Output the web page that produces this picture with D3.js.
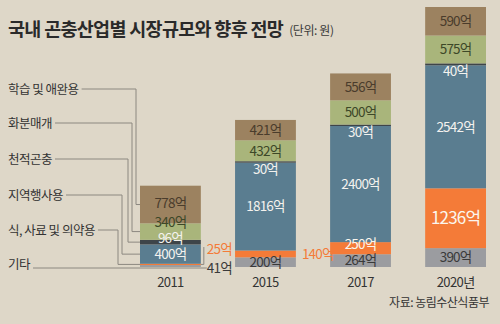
<!DOCTYPE html>
<html>
<head>
<meta charset="utf-8">
<script src="https://cdn.jsdelivr.net/npm/d3@7"></script>
<style>
  html, body { margin: 0; padding: 0; background: #ded7c8; }
  svg { display: block; }
  text { font-family: "Noto Sans CJK KR", "Noto Sans", sans-serif; }
</style>
</head>
<body>
<svg id="chart" width="500" height="324"></svg>
<script>
// Market size by insect industry segment (unit: 억 원)
const years = ["2011", "2015", "2017", "2020년"];
const categories = ["기타", "식, 사료 및 의약용", "지역행사용", "천적곤충", "화분매개", "학습 및 애완용"];
const etc = [41, 200, 264, 390];
const foodFeedMedicine = [25, 140, 250, 1236];
const localEvents = [400, 1816, 2400, 2542];
const naturalEnemies = [96, 30, 30, 40];
const pollination = [340, 432, 500, 575];
const learningPets = [778, 421, 556, 590];
const seriesValues = [etc, foodFeedMedicine, localEvents, naturalEnemies, pollination, learningPets];
const unit = "억";

const colors = ["#9b9ca0", "#f47b38", "#5a7d90", "#3e4549", "#a9b57b", "#9c8260"];
const labelColors = ["#3a3a3a", "#fbf6ee", "#f4f2ee", "#f4f2ee", "#3d4828", "#4a3c2c"];

const svg = d3.select("#chart");

const rows = years.map((y, i) => {
  const r = { year: y };
  categories.forEach((c, k) => { r[c] = seriesValues[k][i]; });
  return r;
});
const stacked = d3.stack().keys(categories)(rows);
const maxTotal = d3.max(rows, r => d3.sum(categories, c => r[c]));

const x = d3.scaleBand().domain(years).range([140, 486]).paddingInner(0.36).paddingOuter(0);
const y = d3.scaleLinear().domain([0, maxTotal]).range([267, 7]);

// title
const title = svg.append("text").attr("x", 8).attr("y", 36)
  .attr("font-size", 18.5).attr("font-weight", 700).attr("fill", "#2a2a2a")
  .attr("letter-spacing", -0.7)
  .text("국내 곤충산업별 시장규모와 향후 전망");
const tw = title.node().getComputedTextLength();
svg.append("text").attr("x", 8 + tw + 6).attr("y", 35)
  .attr("font-size", 12).attr("fill", "#3a3a3a").attr("letter-spacing", -0.4)
  .text("(단위: 원)");

// stacked bars
const layers = svg.append("g").selectAll("g").data(stacked).join("g")
  .attr("fill", (d, i) => colors[i]);
layers.selectAll("rect").data(d => d).join("rect")
  .attr("x", d => x(d.data.year))
  .attr("width", x.bandwidth())
  .attr("y", d => y(d[1]))
  .attr("height", d => Math.max(1.2, y(d[0]) - y(d[1])));

// value labels; crowded ones in the short first bar are spread a little
const nudge = (k, i) => {
  if (i === 0) return [0, 0, 0, -4, -9, -1][k];
  if (i === 2 && k === 1) return -4;
  return 0;
};
const lab = svg.append("g").attr("letter-spacing", -0.8).attr("text-anchor", "middle");
stacked.forEach((layer, k) => {
  layer.forEach((d, i) => {
    const v = d[1] - d[0];
    const cx = x(d.data.year) + x.bandwidth() / 2;
    const top = y(d[1]), bot = y(d[0]);
    let tx = cx, ty = (top + bot) / 2, fill = labelColors[k], size = 13.5, anchor = "middle";
    if (k === 3 && v < 50) { ty = top + 8; fill = "#f4f2ee"; }
    if (k === 1 && v < 200) {
      // thin orange segments are labelled beside the bar
      tx = x(d.data.year) + x.bandwidth() + 6; anchor = "start"; fill = "#f47b38";
      ty = i === 0 ? 249 : ty;
    }
    if (k === 0 && v < 100) {
      tx = x(d.data.year) + x.bandwidth() + 6; anchor = "start"; fill = "#3a3a3a"; ty = 268;
    }
    if (k === 1 && v > 1000) size = 17;
    ty += nudge(k, i);
    lab.append("text").attr("x", tx).attr("y", ty).attr("dy", "0.36em")
      .attr("text-anchor", anchor).attr("font-size", size).attr("fill", fill)
      .text(v + unit);
  });
});

// leader for the small 2011 orange value
const bx = x(years[0]) + x.bandwidth();
svg.append("path").attr("fill", "none").attr("stroke", "#8c8880").attr("stroke-width", 1)
  .attr("d", `M${bx},${y(etc[0] + foodFeedMedicine[0] / 2)}H${bx + 3}V${y(etc[0]) - 18}`);

// category labels with connectors into the first bar
const legendY = [264, 230, 195, 159, 123, 89];
const elbowX = [null, 118, 122, 128, 132, 136];
const first = stacked.map(l => l[0]);
const leg = svg.append("g");
categories.forEach((c, k) => {
  const t = leg.append("text").attr("x", 8).attr("y", legendY[k]).attr("dy", "0.36em")
    .attr("font-size", 12.5).attr("fill", "#333").attr("letter-spacing", -0.5).text(c);
  const end = 8 + t.node().getComputedTextLength() + 3;
  let d;
  if (k === 0) {
    d = `M${end},${268}H${bx + 6}`;
  } else {
    const seg = first[k];
    const ty = (y(seg[0]) + y(seg[1])) / 2;
    d = `M${end},${legendY[k]}H${elbowX[k]}V${ty}H${x(years[0])}`;
  }
  leg.append("path").attr("d", d).attr("fill", "none")
    .attr("stroke", "#8c8880").attr("stroke-width", 1);
});

// year axis
const axis = svg.append("g").attr("transform", "translate(0,282)")
  .call(d3.axisBottom(x).tickSize(0).tickPadding(0));
axis.select(".domain").remove();
axis.selectAll("text").attr("font-size", 13).attr("fill", "#333")
  .attr("letter-spacing", -0.6).attr("dy", "0.36em")
  .style("font-family", "'Noto Sans CJK KR', sans-serif");

// source
svg.append("text").attr("x", 489).attr("y", 303).attr("dy", "0.36em")
  .attr("text-anchor", "end").attr("font-size", 12).attr("fill", "#333")
  .attr("letter-spacing", -0.5).text("자료: 농림수산식품부");
</script>
</body>
</html>
